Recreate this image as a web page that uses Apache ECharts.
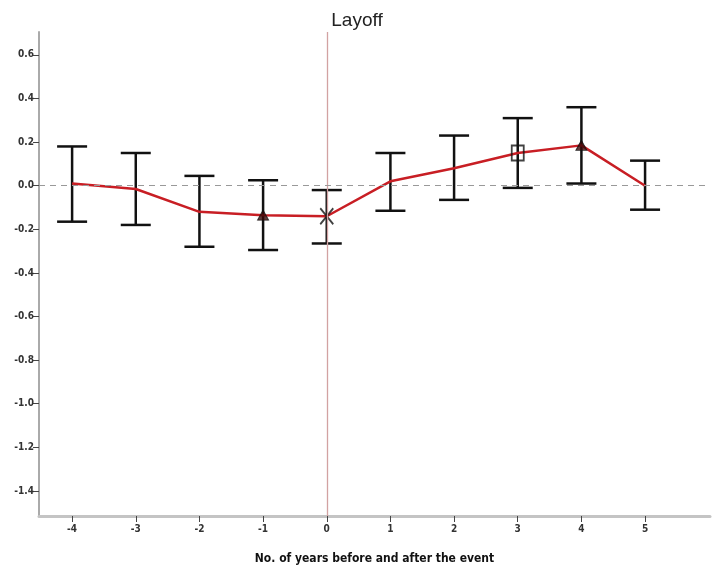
<!DOCTYPE html>
<html>
<head>
<meta charset="utf-8">
<script src="https://cdn.jsdelivr.net/npm/echarts@6/dist/echarts.min.js"></script>
<style>
html,body{margin:0;padding:0;background:#fff;}
#chart{width:714px;height:570px;}
</style>
</head>
<body>
<div id="chart"></div>
<script>
// Data
const years = [-4, -3, -2, -1, 0, 1, 2, 3, 4, 5];
const means = [0.01, -0.015, -0.12, -0.135, -0.14, 0.02, 0.08, 0.15, 0.185, 0.0];
const lower = [-0.165, -0.18, -0.28, -0.295, -0.265, -0.115, -0.065, -0.01, 0.01, -0.11];
const upper = [0.18, 0.15, 0.045, 0.025, -0.02, 0.15, 0.23, 0.31, 0.36, 0.115];
const markers = ['none', 'none', 'none', 'triangle', 'cross', 'none', 'none', 'square', 'triangle', 'none'];
const yTicks = [-1.4, -1.2, -1.0, -0.8, -0.6, -0.4, -0.2, 0.0, 0.2, 0.4, 0.6];
const xTicks = [-4, -3, -2, -1, 0, 1, 2, 3, 4, 5];
const eventYear = 0;

const chart = echarts.init(document.getElementById('chart'));

const lineData = years.map((x, i) => [x, means[i]]);
const errData = years.map((x, i) => [x, lower[i], upper[i]]);
const symbolMap = {
  triangle: {symbol: 'triangle', symbolSize: [11, 10], itemStyle: {color: '#3a0808', borderColor: '#111', borderWidth: 1}},
  square: {symbol: 'rect', symbolSize: [12, 15], itemStyle: {color: 'rgba(0,0,0,0)', borderColor: '#111', borderWidth: 2}},
  cross: {symbol: 'path://M0,0L10,10M10,0L0,10', symbolSize: [13, 16], itemStyle: {color: 'rgba(0,0,0,0)', borderColor: '#111', borderWidth: 2}}
};
const markerData = [];
years.forEach((x, i) => {
  if (markers[i] !== 'none') {
    markerData.push(Object.assign({value: [x, means[i]]}, symbolMap[markers[i]]));
  }
});

const labelFont = {fontFamily: 'Liberation Sans Narrow, DejaVu Sans Condensed, Arial, sans-serif', fontSize: 10, fontWeight: 'bold', color: '#333'};

chart.setOption({
  animation: false,
  backgroundColor: '#fff',
  title: {
    text: 'Layoff',
    left: 'center',
    top: 6,
    textStyle: {fontFamily: 'Liberation Sans, Arial, sans-serif', fontSize: 19, fontWeight: 'normal', color: '#222'}
  },
  grid: {left: 39, right: 4, top: 32, bottom: 52},
  xAxis: {
    type: 'value',
    min: -4.52,
    max: 6.02,
    splitLine: {show: false},
    axisLine: {onZero: false, lineStyle: {color: '#c4c4c4', width: 3}},
    axisTick: {show: true, customValues: xTicks, length: 6, lineStyle: {color: '#444', width: 1}},
    axisLabel: Object.assign({customValues: xTicks, margin: 8, formatter: v => String(v)}, labelFont),
    name: 'No. of years before and after the event',
    nameLocation: 'middle',
    nameGap: 37,
    nameTextStyle: {fontFamily: 'Liberation Sans Narrow, DejaVu Sans Condensed, Arial, sans-serif', fontSize: 12, fontWeight: 'bold', color: '#111'}
  },
  yAxis: {
    type: 'value',
    min: -1.515,
    max: 0.705,
    splitLine: {show: false},
    axisLine: {show: true, onZero: false, lineStyle: {color: '#aaaaaa', width: 2}},
    axisTick: {show: true, customValues: yTicks, length: 6, lineStyle: {color: '#444', width: 1}},
    axisLabel: Object.assign({customValues: yTicks, margin: 5, formatter: v => v.toFixed(1)}, labelFont)
  },
  series: [
    {
      type: 'custom',
      z: 2,
      data: errData,
      encode: {x: 0, y: [1, 2]},
      renderItem: function (params, api) {
        const x = api.value(0);
        const top = api.coord([x, api.value(2)]);
        const bot = api.coord([x, api.value(1)]);
        const half = 15;
        const style = {stroke: '#111', lineWidth: 2.5};
        return {
          type: 'group',
          children: [
            {type: 'line', shape: {x1: top[0], y1: top[1], x2: bot[0], y2: bot[1]}, style: style},
            {type: 'line', shape: {x1: top[0] - half, y1: top[1], x2: top[0] + half, y2: top[1]}, style: style},
            {type: 'line', shape: {x1: bot[0] - half, y1: bot[1], x2: bot[0] + half, y2: bot[1]}, style: style}
          ]
        };
      },
      markLine: {
        silent: true,
        symbol: 'none',
        label: {show: false},
        emphasis: {disabled: true},
        lineStyle: {color: '#d2a2a2', width: 1.3, type: 'solid', opacity: 1},
        data: [{xAxis: eventYear}]
      }
    },
    {
      type: 'line',
      z: 3,
      data: lineData,
      symbol: 'none',
      lineStyle: {color: '#c81e24', width: 2.5},
      markLine: {
        silent: true,
        symbol: 'none',
        label: {show: false},
        emphasis: {disabled: true},
        lineStyle: {color: '#999999', width: 1.2, type: [6, 5], opacity: 1},
        data: [{yAxis: 0}]
      }
    },
    {
      type: 'scatter',
      z: 4,
      data: markerData
    }
  ]
});
</script>
</body>
</html>
